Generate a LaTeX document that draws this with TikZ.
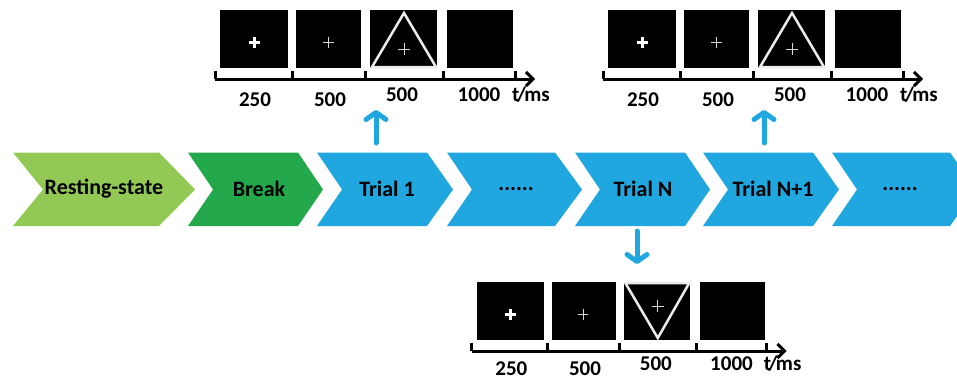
\documentclass[tikz,border=0pt]{standalone}
\usepackage{fontspec}
\setmainfont{Carlito}
\usetikzlibrary{arrows.meta}
\definecolor{lgreen}{RGB}{146,201,84}
\definecolor{dgreen}{RGB}{36,168,76}
\definecolor{cblue}{RGB}{33,167,224}
\newcommand{\chevshape}[5]{% x0, x1, notch, tip, color
  \fill[#5] (#1,152.5) -- (#2,152.5) -- (#4,189.5) -- (#2,226) -- (#1,226) -- (#3,189.5) -- cycle;}
\newcommand{\stimgroup}[4]{% prefix, scope options, triangle: 1 = up, 2 = down, label lift
  \begin{scope}[#2]
    \fill[black] (220,10) rectangle (288,68);
    \fill[black] (296,10) rectangle (361,68);
    \fill[black] (370,10) rectangle (437,68);
    \fill[black] (447,10) rectangle (513,68);
    \draw[boldplus] (248.5,42) -- (259.5,42) (254,36.5) -- (254,47.5);
    \draw[thinplus] (322.5,42) -- (333.5,42) (328,36.5) -- (328,47.5);
    \ifnum#3=1
      \draw[tri] (404,13) -- (436,67) -- (372,67) -- cycle;
      \draw[thinplus] (398,49) -- (410,49) (404,43) -- (404,55);
    \else
      \draw[tri] (371,11) -- (436,11) -- (404,66) -- cycle;
      \draw[thinplus] (398,34) -- (410,34) (404,28) -- (404,40);
    \fi
    \coordinate (#1t0) at (215,79);
    \coordinate (#1t1) at (292,79);
    \coordinate (#1t2) at (365,79);
    \coordinate (#1t3) at (443,79);
    \coordinate (#1t4) at (515,79);
    \coordinate (#1end) at (535,79);
    \draw[axisline] (#1t0) -- (#1end);
    \foreach \k in {0,...,4} {\draw[tick] (#1t\k) -- ++(0,-8);}
    \node[lab] (#1l1) at (255,106-#4) {250};
    \node[lab] (#1l2) at (330,106-#4) {500};
    \node[lab] (#1l3) at (402,101-#4) {500};
    \node[lab] (#1l4) at (479,101-#4) {1000};
    \node[lab] (#1l5) at (531,101-#4) {t\kern-.12em/\kern-.08em ms};
  \end{scope}}
\begin{document}
\begin{tikzpicture}[x=1pt,y=-1pt,
  ctext/.style={font=\fontsize{22}{26}\selectfont\bfseries, text=black, inner sep=0pt},
  lab/.style={font=\fontsize{21}{25}\selectfont\bfseries, text=black, inner sep=0pt, anchor=base},
  boldplus/.style={draw=white, line width=3pt},
  thinplus/.style={draw=white!85!black, line width=1pt},
  tri/.style={draw=white!92!black, line width=2.5pt, line join=miter},
  axisline/.style={draw=black, line width=3pt, -{Straight Barb[length=7pt,width=14pt,line join=miter]}},
  tick/.style={draw=black, line width=3pt},
  bluearr/.style={draw=cblue, line width=5pt, line cap=round, -{Straight Barb[length=7pt,width=20pt,line cap=round,line join=round]}}]
\clip (0,0) rectangle (957,380);
\fill[white] (0,0) rectangle (957,380);
% chevrons
\chevshape{13}{159}{43}{195}{lgreen}
\chevshape{188}{298}{213}{323}{dgreen}
\chevshape{317}{427}{342}{453}{cblue}
\chevshape{447}{555}{472}{582}{cblue}
\chevshape{575}{685}{600}{710}{cblue}
\chevshape{703}{813}{728}{839}{cblue}
\chevshape{832}{950}{857}{976}{cblue}
\node[ctext] (rest) at (104,189) {Resting-state};
\node[ctext] (brk) at (259,189) {Break};
\node[ctext] (tr1) at (387,189) {Trial 1};
\node[ctext] (dots1) at (516,189) {......};
\node[ctext] (trN) at (643,189) {Trial N};
\node[ctext] (trN1) at (773,189) {Trial N+1};
\node[ctext] (dots2) at (900,189) {......};
% stimulus sequences
\stimgroup{a}{}{1}{0}
\stimgroup{b}{shift={(388,0)}}{1}{0}
\stimgroup{c}{shift={(472,272)},xscale=0.983,shift={(-215,0)}}{2}{3}
% blue arrows
\coordinate (u1s) at (376,143);
\coordinate (u1e) at (376,110);
\coordinate (u2s) at (764,143);
\coordinate (u2e) at (764,110);
\coordinate (d1s) at (637,231);
\coordinate (d1e) at (637,264);
\draw[bluearr] (u1s) -- (u1e);
\draw[bluearr] (u2s) -- (u2e);
\draw[bluearr] (d1s) -- (d1e);
\end{tikzpicture}
\end{document}
